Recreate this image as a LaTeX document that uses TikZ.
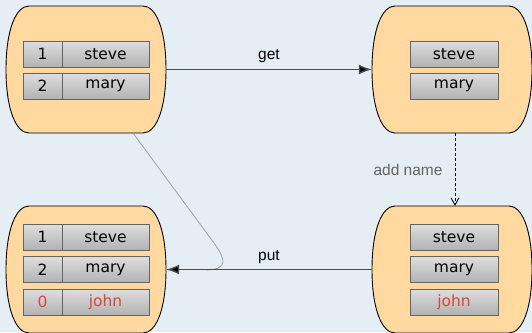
\documentclass[tikz,border=0pt]{standalone}
\usepackage{fontspec}
\setmainfont{DejaVu Sans}
\newfontfamily\labfont{Liberation Sans}
\usetikzlibrary{arrows.meta}
\definecolor{bgc}{RGB}{230,238,245}
\definecolor{peach}{RGB}{255,217,160}
\definecolor{celltop}{RGB}{222,222,222}
\definecolor{cellbot}{RGB}{178,178,178}
\definecolor{cellborder}{RGB}{100,100,100}
\definecolor{redtxt}{RGB}{214,72,60}
\definecolor{arrc}{RGB}{75,75,75}
\definecolor{labgray}{RGB}{100,100,100}
\definecolor{curvec}{RGB}{160,160,160}
\newcommand\barrelshape[3]{%
  \node[container] (#1) at (#2,#3) {};
  \filldraw[barrel] (#2-57,#3-63.5) -- (#2+57,#3-63.5)
    .. controls (#2+70,#3-63.5) and (#2+80,#3-40) .. (#2+80,#3)
    .. controls (#2+80,#3+40) and (#2+70,#3+63.5) .. (#2+57,#3+63.5)
    -- (#2-57,#3+63.5)
    .. controls (#2-70,#3+63.5) and (#2-80,#3+40) .. (#2-80,#3)
    .. controls (#2-80,#3-40) and (#2-70,#3-63.5) .. cycle;
}
\tikzset{
  container/.style={rectangle, draw=none, minimum width=160, minimum height=127, inner sep=0},
  barrel/.style={fill=peach, draw=black, line width=0.9pt},
  cell/.style={rectangle, draw=cellborder, line width=0.9pt, top color=celltop, bottom color=cellbot,
    minimum height=26, inner sep=0, font=\fontsize{15.5}{18}\selectfont},
  numcell/.style={cell, minimum width=39},
  namecell/.style={cell, minimum width=87},
  wcell/.style={cell, minimum width=88},
  red/.style={text=redtxt},
  arr/.style={draw=arrc, line width=1.4pt, -{Latex[length=13pt,width=10pt,fill=black]}},
  lab/.style={font=\labfont\fontsize{15.5}{18}\selectfont, inner sep=0},
}
\begin{document}
\begin{tikzpicture}[x=1pt,y=-1pt]
\fill[bgc] (0,0) rectangle (532,332);
\useasboundingbox (0,0) rectangle (532,332);
% containers
\barrelshape{tl}{86}{69.5}
\barrelshape{tr}{452}{69.5}
\barrelshape{bl}{86}{269.5}
\barrelshape{br}{452}{269.5}
% top-left cells
\node[numcell] (tl1n) at (42.5,54) {1};
\node[namecell] (tl1v) at (105.5,54) {steve};
\node[numcell] (tl2n) at (42.5,86) {2};
\node[namecell] (tl2v) at (105.5,86) {mary};
% top-right cells
\node[wcell] (tr1) at (454,54) {steve};
\node[wcell] (tr2) at (454,86) {mary};
% bottom-left cells
\node[numcell] (bl1n) at (42.5,237) {1};
\node[namecell] (bl1v) at (105.5,237) {steve};
\node[numcell] (bl2n) at (42.5,269.5) {2};
\node[namecell] (bl2v) at (105.5,269.5) {mary};
\node[numcell,red] (bl3n) at (42.5,302) {0};
\node[namecell,red] (bl3v) at (105.5,302) {john};
% bottom-right cells
\node[wcell] (br1) at (454,237) {steve};
\node[wcell] (br2) at (454,269.5) {mary};
\node[wcell,red] (br3) at (454,302) {john};
% gray curve
\coordinate (cstart) at (133,133);
\coordinate (merge) at (207,270);
\draw[curvec, line width=0.8pt] (cstart) -- (214,243)
  .. controls (226,260) and (228,269) .. (merge);
% arrows
\draw[arr] (tl.east) -- (tr.west);
\draw[arr] (br.west) -- (bl.east);
\draw[black, line width=0.9pt, dash pattern=on 3pt off 2pt, -{Straight Barb[length=7pt,width=8pt]}]
  ([xshift=3]tr.south) -- ([xshift=3]br.north);
% labels
\node[lab] (lget) at (269,56) {get};
\node[lab] (lput) at (269,257) {put};
\node[lab, text=labgray] (ladd) at (408,170) {add name};
\end{tikzpicture}
\end{document}
